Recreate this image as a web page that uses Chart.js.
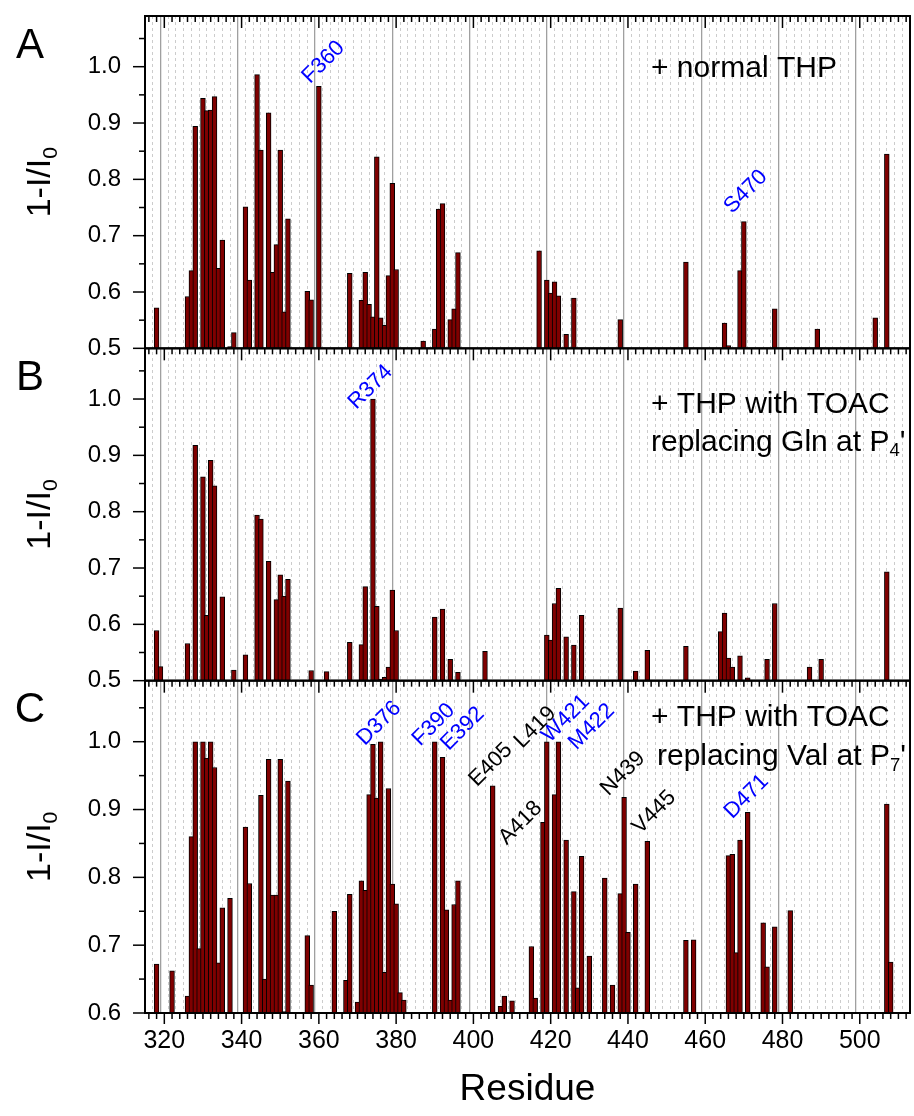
<!DOCTYPE html>
<html lang="en">
<head>
<meta charset="UTF-8">
<title>1-I/I0 by residue</title>
<script src="https://cdn.jsdelivr.net/npm/chart.js@4.4.1/dist/chart.umd.min.js"></script>
<style>
  body { margin: 0; background: #fff; }
  #wrap { position: relative; width: 914px; height: 1116px; }
</style>
</head>
<body>
<div id="wrap"><canvas id="residueChart" width="914" height="1116"></canvas></div>
<script>
// --- data ---
const residuesA = [318, 326, 327, 328, 330, 331, 332, 333, 334, 335, 337, 338, 341, 342, 344, 345, 347, 348, 349, 350,
  351, 352, 357, 358, 360, 368, 371, 372, 373, 374, 375, 376, 377, 378, 379, 380, 387, 390, 391, 392,
  394, 395, 396, 417, 419, 420, 421, 422, 424, 426, 438, 455, 465, 466, 469, 470, 478, 489, 504, 507];
const valuesA = [0.572, 0.592, 0.638, 0.894, 0.944, 0.922, 0.923, 0.947, 0.642, 0.692, 0.503, 0.528, 0.751, 0.621, 0.986, 0.852, 0.918, 0.635, 0.684, 0.852,
  0.565, 0.730, 0.601, 0.586, 0.965, 0.633, 0.585, 0.635, 0.578, 0.556, 0.840, 0.554, 0.541, 0.629, 0.793, 0.640, 0.513, 0.534, 0.747, 0.757,
  0.551, 0.570, 0.670, 0.673, 0.621, 0.598, 0.618, 0.593, 0.525, 0.589, 0.551, 0.653, 0.545, 0.505, 0.638, 0.725, 0.570, 0.534, 0.554, 0.845];

const residuesB = [318, 319, 326, 328, 330, 331, 332, 333, 335, 338, 341, 344, 345, 347, 349, 350, 351, 352, 358, 362,
  368, 371, 372, 374, 375, 376, 377, 378, 379, 380, 390, 392, 394, 396, 403, 419, 420, 421, 422, 424,
  426, 428, 438, 442, 445, 455, 464, 465, 466, 467, 469, 471, 476, 478, 487, 490, 507];
const valuesB = [0.589, 0.525, 0.566, 0.918, 0.862, 0.616, 0.891, 0.846, 0.649, 0.519, 0.546, 0.794, 0.787, 0.712, 0.644, 0.688, 0.650, 0.680, 0.518, 0.516,
  0.568, 0.564, 0.667, 1.000, 0.632, 0.503, 0.506, 0.524, 0.661, 0.589, 0.613, 0.627, 0.538, 0.515, 0.552, 0.581, 0.572, 0.637, 0.664, 0.578,
  0.563, 0.616, 0.629, 0.517, 0.554, 0.561, 0.587, 0.620, 0.540, 0.524, 0.544, 0.505, 0.538, 0.637, 0.524, 0.538, 0.693];

const residuesC = [318, 322, 326, 327, 328, 329, 330, 331, 332, 333, 334, 335, 337, 341, 342, 345, 346, 347, 348, 349,
  350, 351, 352, 357, 358, 364, 367, 368, 370, 371, 372, 373, 374, 375, 376, 377, 378, 379, 380, 381,
  382, 390, 392, 393, 394, 395, 396, 405, 407, 408, 410, 415, 416, 418, 419, 421, 422, 424, 426, 427,
  428, 430, 434, 436, 438, 439, 440, 442, 445, 455, 457, 466, 467, 468, 469, 471, 475, 476, 478, 482, 507, 508];
const valuesC = [0.672, 0.662, 0.625, 0.860, 1.000, 0.695, 1.000, 0.976, 1.000, 0.962, 0.674, 0.755, 0.769, 0.874, 0.791, 0.921, 0.650, 0.974, 0.774, 0.774,
  0.974, 0.602, 0.942, 0.714, 0.641, 0.750, 0.648, 0.775, 0.616, 0.795, 0.781, 0.922, 0.996, 0.917, 1.000, 0.660, 0.931, 0.790, 0.761, 0.630,
  0.619, 1.000, 0.977, 0.752, 0.619, 0.760, 0.795, 0.935, 0.610, 0.625, 0.618, 0.698, 0.622, 0.881, 1.000, 0.922, 1.000, 0.855, 0.779, 0.637,
  0.831, 0.684, 0.799, 0.641, 0.776, 0.918, 0.719, 0.790, 0.853, 0.707, 0.708, 0.832, 0.834, 0.689, 0.855, 0.896, 0.733, 0.668, 0.727, 0.751, 0.908, 0.675];

const xTickLabels = ['320', '340', '360', '380', '400', '420', '440', '460', '480', '500'];
const panelLetters = ['A', 'B', 'C'];

// --- look ---
const FONT = "'Liberation Sans', Arial, sans-serif";
Chart.defaults.font.family = FONT;
Chart.defaults.color = '#000';

const toPoints = (rs, vs) => rs.map((r, i) => ({ x: r, y: vs[i] }));
const barLook = {
  backgroundColor: '#800000', borderColor: '#000', borderWidth: 1, borderSkipped: 'start',
  grouped: false, barThickness: 4.8
};
const isMajor = c => !c.tick || Math.round(c.tick.value) % 20 === 0;

// text notes per panel (offsets from the panel top, px)
const panels = [
  { axis: 'yA', letter: panelLetters[0], notes: [{ dy: 53, x: 651, parts: [{ t: '+ normal THP' }] }] },
  { axis: 'yB', letter: panelLetters[1], notes: [
      { dy: 56, x: 651, parts: [{ t: '+ THP with TOAC' }] },
      { dy: 94, x: 651, parts: [{ t: 'replacing Gln at P' }, { t: '4', sub: true }, { t: "'" }] }] },
  { axis: 'yC', letter: panelLetters[2], notes: [
      { dy: 37, x: 651, parts: [{ t: '+ THP with TOAC' }] },
      { dy: 76, x: 657, parts: [{ t: 'replacing Val at P' }, { t: '7', sub: true }, { t: "'" }] }] }
];

// rotated residue labels, centre given in data units of each panel
const BLUE = '#0000ff';
const peakLabels = [
  { axis: 'yA', text: 'F360', r: 361.2, v: 1.008, color: BLUE },
  { axis: 'yA', text: 'S470', r: 470.5, v: 0.778, color: BLUE },
  { axis: 'yB', text: 'R374', r: 373.4, v: 1.021, color: BLUE },
  { axis: 'yC', text: 'D376', r: 375.6, v: 1.027, color: BLUE },
  { axis: 'yC', text: 'F390', r: 389.7, v: 1.025, color: BLUE },
  { axis: 'yC', text: 'E392', r: 397.2, v: 1.019, color: BLUE },
  { axis: 'yC', text: 'E405', r: 404.5, v: 0.966, color: '#000' },
  { axis: 'yC', text: 'L419', r: 416.0, v: 1.021, color: '#000' },
  { axis: 'yC', text: 'A418', r: 412.2, v: 0.880, color: '#000' },
  { axis: 'yC', text: 'W421', r: 423.9, v: 1.034, color: BLUE },
  { axis: 'yC', text: 'M422', r: 430.6, v: 1.022, color: BLUE },
  { axis: 'yC', text: 'N439', r: 438.7, v: 0.953, color: '#000' },
  { axis: 'yC', text: 'V445', r: 446.8, v: 0.896, color: '#000' },
  { axis: 'yC', text: 'D471', r: 470.7, v: 0.919, color: BLUE }
];

function drawParts(ctx, parts, x, y, size) {
  let cx = x;
  parts.forEach(p => {
    const s = p.sub ? size * 0.62 : size;
    ctx.font = s + 'px ' + FONT;
    ctx.fillText(p.t, cx, p.sub ? y + size * 0.3 : y);
    cx += ctx.measureText(p.t).width;
  });
}

const decorations = {
  id: 'decorations',
  afterDraw(chart) {
    const { ctx, chartArea: area, scales } = chart;
    const x = scales.x;
    const line = (x1, y1, x2, y2) => { ctx.beginPath(); ctx.moveTo(x1, y1); ctx.lineTo(x2, y2); ctx.stroke(); };
    ctx.save();
    ctx.strokeStyle = '#000';

    panels.forEach(p => {
      const ys = scales[p.axis];
      // x ticks hanging into the panel from its top edge
      ctx.lineWidth = 1.5;
      for (let r = x.min; r <= x.max; r += 2) {
        const px = x.getPixelForValue(r);
        line(px, ys.top, px, ys.top + (r % 20 === 0 ? 12 : 6));
      }
      // y ticks, major every 0.1, minor every 0.05
      for (let k = Math.ceil(ys.min / 0.05 - 1e-6); k * 0.05 <= ys.max + 1e-6; k++) {
        const py = ys.getPixelForValue(k * 0.05);
        line(area.left - (k % 2 === 0 ? 12 : 6), py, area.left, py);
      }
      ctx.lineWidth = 2;
      ctx.strokeRect(area.left, ys.top, area.right - area.left, ys.bottom - ys.top);

      // y title with subscript
      const tSize = 34;
      ctx.save();
      ctx.fillStyle = '#000';
      ctx.translate(41, (ys.top + ys.bottom) / 2);
      ctx.rotate(-Math.PI / 2);
      ctx.font = tSize + 'px ' + FONT;
      const w1 = ctx.measureText('1-I/I').width;
      ctx.font = (tSize * 0.62) + 'px ' + FONT;
      const w2 = ctx.measureText('0').width;
      ctx.textBaseline = 'middle';
      drawParts(ctx, [{ t: '1-I/I' }, { t: '0', sub: true }], -(w1 + w2) / 2, 0, tSize);
      ctx.restore();

      // panel letter and notes
      ctx.fillStyle = '#000';
      ctx.textBaseline = 'middle';
      ctx.textAlign = 'center';
      ctx.font = '42px ' + FONT;
      ctx.fillText(p.letter, 30, ys.top + 30);
      ctx.textAlign = 'left';
      p.notes.forEach(n => drawParts(ctx, n.parts, n.x, ys.top + n.dy, 30));
    });

    // outward ticks under the bottom axis
    ctx.lineWidth = 1.5;
    for (let r = x.min; r <= x.max; r += 2) {
      const px = x.getPixelForValue(r);
      line(px, area.bottom, px, area.bottom + (r % 20 === 0 ? 11 : 6));
    }

    // rotated residue labels
    ctx.font = '22px ' + FONT;
    ctx.textAlign = 'center';
    ctx.textBaseline = 'middle';
    peakLabels.forEach(l => {
      ctx.save();
      ctx.translate(x.getPixelForValue(l.r), scales[l.axis].getPixelForValue(l.v));
      ctx.rotate(-Math.PI / 4);
      ctx.fillStyle = l.color;
      ctx.fillText(l.text, 0, 0);
      ctx.restore();
    });
    ctx.restore();
  }
};

function panelAxis(min, weight) {
  return {
    type: 'linear', position: 'left', stack: 'panels', stackWeight: 1, weight: weight,
    min: min, max: 1.09,
    ticks: { stepSize: 0.1, includeBounds: false, font: { size: 24 }, color: '#000', padding: 24,
      callback: v => v.toFixed(1) },
    grid: { drawOnChartArea: false, drawTicks: false },
    border: { display: true, color: '#000', width: 2 },
    afterFit(s) { s.width = 145; s.paddingTop = 0; s.paddingBottom = 0; }
  };
}

new Chart(document.getElementById('residueChart'), {
  type: 'bar',
  data: {
    datasets: [
      Object.assign({ label: 'normal THP', data: toPoints(residuesA, valuesA), yAxisID: 'yA' }, barLook),
      Object.assign({ label: 'TOAC at P4\'', data: toPoints(residuesB, valuesB), yAxisID: 'yB' }, barLook),
      Object.assign({ label: 'TOAC at P7\'', data: toPoints(residuesC, valuesC), yAxisID: 'yC' }, barLook)
    ]
  },
  options: {
    responsive: false,
    animation: false,
    layout: { padding: { top: 16, right: 4, bottom: 0, left: 0 } },
    plugins: { legend: { display: false }, tooltip: { enabled: false } },
    scales: {
      x: {
        type: 'linear', position: 'bottom', min: 316, max: 512,
        ticks: {
          stepSize: 2, autoSkip: false, maxRotation: 0, font: { size: 25 }, color: '#000', padding: 13,
          callback: v => (xTickLabels.includes(String(Math.round(v))) ? String(Math.round(v)) : '')
        },
        grid: {
          drawTicks: false,
          color: c => (isMajor(c) ? '#a0a0a0' : '#cccccc'),
          lineWidth: c => (isMajor(c) ? 1.3 : 1)
        },
        border: {
          display: true, color: '#000', width: 2,
          dash: c => (isMajor(c) ? [] : [3, 3])
        },
        title: { display: true, text: 'Residue', font: { size: 37 }, color: '#000', padding: { top: 6, bottom: 4 } },
        afterFit(s) { s.height = 103; s.paddingLeft = 0; s.paddingRight = 0; }
      },
      yA: panelAxis(0.5, 3),
      yB: panelAxis(0.5, 2),
      yC: panelAxis(0.6, 1)
    }
  },
  plugins: [decorations]
});
</script>
</body>
</html>
